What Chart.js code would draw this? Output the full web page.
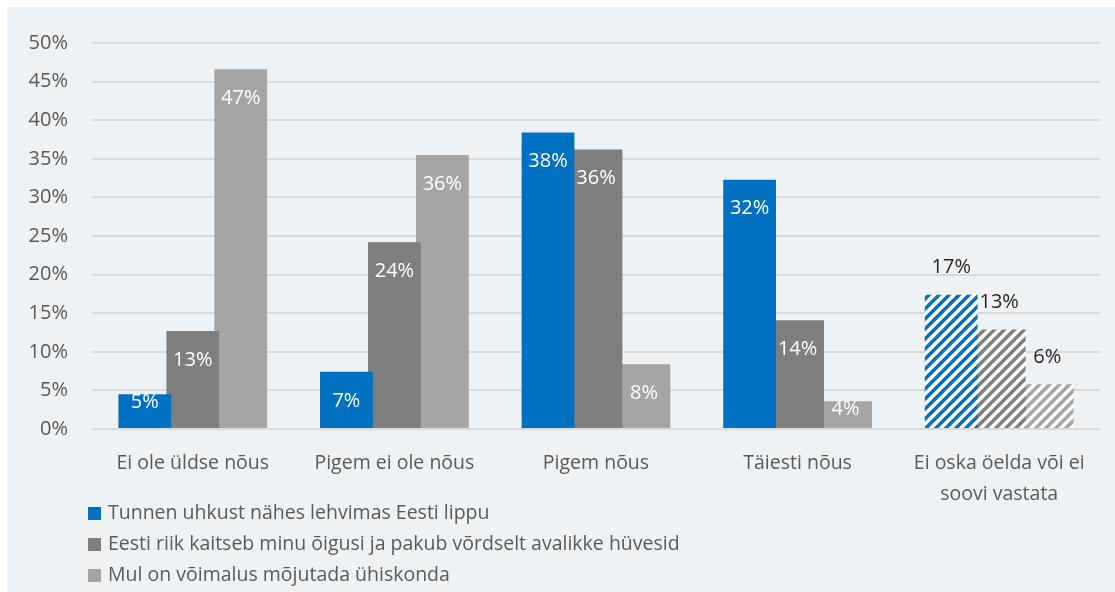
<!DOCTYPE html>
<html>
<head>
<meta charset="utf-8">
<script src="https://cdn.jsdelivr.net/npm/chart.js@4.4.0/dist/chart.umd.min.js"></script>
<style>
    body { margin: 0; background: #ffffff; }
    #box { position: absolute; left: 7px; top: 7px; width: 1108px; height: 585px; background: #eff2f4; }
    #chart { position: absolute; left: 0; top: 0; }
    #legend { position: absolute; left: 81px; top: 489px; font-family: "Open Sans", sans-serif; font-size: 19.5px; color: #595959; }
    #legend div { height: 31px; line-height: 31px; white-space: nowrap; }
    #legend span { display: inline-block; width: 13px; height: 13px; margin-right: 7px; vertical-align: -1px; }
</style>
</head>
<body>
<div id="box">
    <canvas id="chart" width="1108" height="585"></canvas>
    <div id="legend"></div>
</div>
<script>
const categories = [
    'Ei ole üldse nõus',
    'Pigem ei ole nõus',
    'Pigem nõus',
    'Täiesti nõus',
    ['Ei oska öelda või ei', 'soovi vastata']
];
const seriesNames = [
    'Tunnen uhkust nähes lehvimas Eesti lippu',
    'Eesti riik kaitseb minu õigusi ja pakub võrdselt avalikke hüvesid',
    'Mul on võimalus mõjutada ühiskonda'
];
const lippValues = [4.5, 7.4, 38.4, 32.3, 17.4];
const riikValues = [12.7, 24.2, 36.2, 14.1, 12.9];
const mojutadaValues = [46.6, 35.5, 8.4, 3.6, 5.8];
const seriesColors = ['#0070c0', '#7f7f7f', '#a5a5a5'];
const yTicks = [0, 5, 10, 15, 20, 25, 30, 35, 40, 45, 50];

const FONT = '"Open Sans", sans-serif';

// last category ("ei oska öelda") is drawn hatched
function hatch(color) {
    let c = document.createElement('canvas');
    c.width = 10;
    c.height = 10;
    let x = c.getContext('2d');
    x.fillStyle = '#ffffff';
    x.fillRect(0, 0, 10, 10);
    x.strokeStyle = color;
    x.lineWidth = 3.5;
    x.beginPath();
    x.moveTo(-2, 12); x.lineTo(12, -2);
    x.moveTo(-7, 7); x.lineTo(7, -7);
    x.moveTo(3, 17); x.lineTo(17, 3);
    x.stroke();
    return x.createPattern(c, 'repeat');
}

function fills(color) {
    return categories.map((c, i) => i === categories.length - 1 ? hatch(color) : color);
}

const allValues = [lippValues, riikValues, mojutadaValues];

const labelPlugin = {
    id: 'barLabels',
    afterDatasetsDraw(chart) {
        let ctx = chart.ctx;
        ctx.save();
        ctx.font = '20px ' + FONT;
        ctx.textAlign = 'center';
        ctx.textBaseline = 'middle';
        chart.data.datasets.forEach((ds, di) => {
            chart.getDatasetMeta(di).data.forEach((bar, i) => {
                let text = Math.round(ds.data[i]) + '%';
                let y;
                if (i === categories.length - 1) {
                    ctx.fillStyle = '#262626';
                    y = bar.y - 27;
                } else {
                    ctx.fillStyle = '#ffffff';
                    y = (bar.base - bar.y) > 45 ? bar.y + 29 : bar.y + 8;
                }
                ctx.fillText(text, bar.x, y);
            });
        });
        ctx.restore();
    }
};

const data = {
    labels: categories,
    datasets: allValues.map((vals, i) => ({
        label: seriesNames[i],
        data: vals,
        backgroundColor: fills(seriesColors[i]),
        categoryPercentage: 0.714,
        barPercentage: 1.1
    }))
};

const config = {
    type: 'bar',
    data: data,
    options: {
        responsive: false,
        animation: false,
        layout: { padding: { top: 35, right: 15, left: 0, bottom: 0 } },
        plugins: {
            legend: { display: false },
            tooltip: { enabled: false }
        },
        scales: {
            x: {
                grid: { display: false, drawTicks: false },
                border: { display: false },
                ticks: { color: '#595959', font: { family: FONT, size: 19.5, lineHeight: 1.59 }, padding: 19, maxRotation: 0, autoSkip: false },
                afterFit: s => { s.height = 163; }
            },
            y: {
                min: 0,
                max: 50,
                afterBuildTicks: s => { s.ticks = yTicks.map(v => ({ value: v })); },
                grid: { color: '#d9d9d9', lineWidth: 2, drawTicks: false },
                border: { display: false },
                ticks: { color: '#595959', font: { family: FONT, size: 20 }, padding: 24, callback: v => v + '%' },
                afterFit: s => { s.width = 85; }
            }
        }
    },
    plugins: [labelPlugin]
};

new Chart(document.getElementById('chart').getContext('2d'), config);

let legend = document.getElementById('legend');
seriesNames.forEach((name, i) => {
    let row = document.createElement('div');
    let sw = document.createElement('span');
    sw.style.background = seriesColors[i];
    row.appendChild(sw);
    row.appendChild(document.createTextNode(name));
    legend.appendChild(row);
});
</script>
</body>
</html>
